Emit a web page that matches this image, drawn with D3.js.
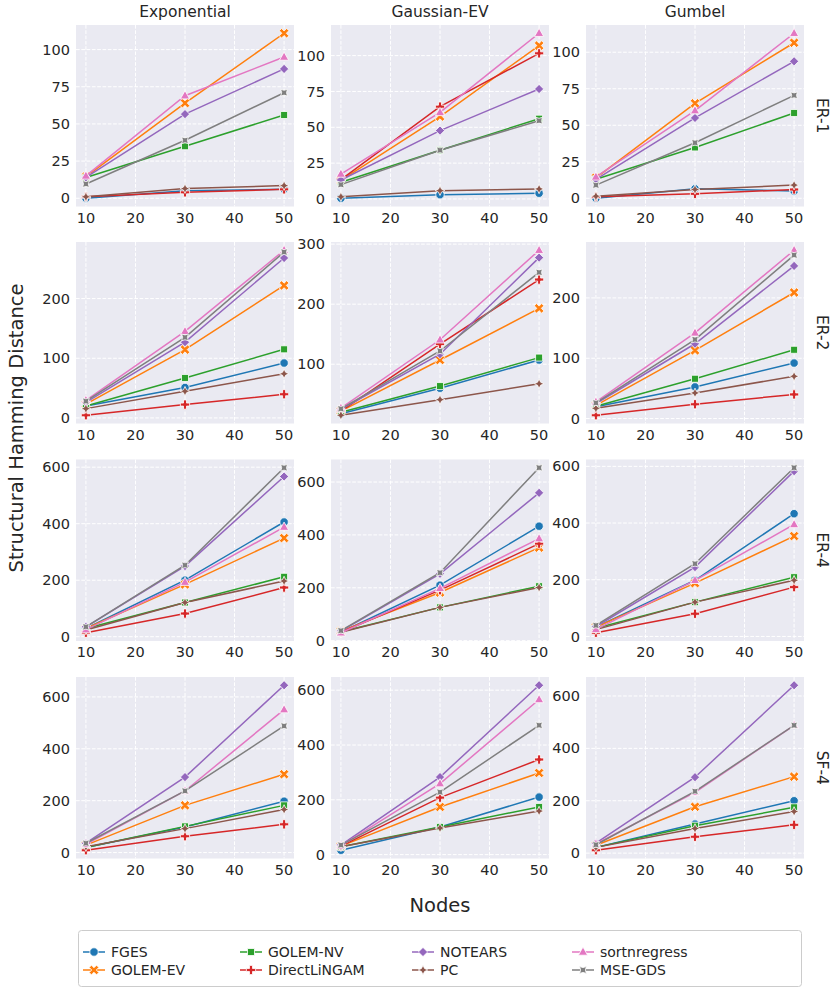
<!DOCTYPE html>
<html>
<head>
<meta charset="utf-8">
<script src="https://cdn.jsdelivr.net/npm/d3@7"></script>
<style>
  body { margin: 0; background: #fff; }
  svg text { font-family: "DejaVu Sans", sans-serif; fill: #262626; }
</style>
</head>
<body>
<svg id="chart" width="830" height="994"></svg>
<script>
// x values and facet labels
var nodes = [10, 30, 50];
var xTicks = [10, 20, 30, 40, 50];
var noiseTypes = ['Exponential', 'Gaussian-EV', 'Gumbel'];
var graphTypes = ['ER-1', 'ER-2', 'ER-4', 'SF-4'];
var rowTickStep = [25, 100, 200, 200];
var methods = ['FGES', 'GOLEM-EV', 'GOLEM-NV', 'DirectLiNGAM', 'NOTEARS', 'PC', 'sortnregress', 'MSE-GDS'];
var colors = ['#1f77b4', '#ff7f0e', '#2ca02c', '#d62728', '#9467bd', '#8c564b', '#e377c2', '#7f7f7f'];
var markers = ['circle', 'x', 'square', 'plus', 'diamond', 'star4', 'triangle', 'star4r'];

// SHD per method: rows ER-1, ER-2, ER-4, SF-4; in each row Exponential, Gaussian-EV, Gumbel
var shd_FGES = [
	[0, 5, 6], [0.5, 3, 4], [0, 6.5, 5],
	[20, 51, 92], [17.5, 60, 107], [19.5, 52.5, 92],
	[29, 200, 406], [32, 210, 433], [33, 198, 433],
	[20, 99, 198], [16, 101, 210], [22, 111, 200]
];
var shd_GOLEM_EV = [
	[14.5, 64, 111], [13, 57.5, 107], [14, 65, 106.5],
	[23, 114.5, 222], [22, 107, 193], [22, 113, 209],
	[29, 185, 349], [36, 182, 352], [33, 188, 354],
	[28.7, 182, 302], [31, 174, 298], [30, 177, 292]
];
var shd_GOLEM_NV = [
	[14, 35, 56], [11.6, 34, 56], [13, 34.8, 58.4],
	[20, 67, 115], [20, 63.6, 111], [20.5, 66, 114],
	[29, 121, 212], [34, 126, 206], [29, 121, 209],
	[20, 101, 182], [29, 101, 174], [22, 104.6, 175]
];
var shd_DirectLiNGAM = [
	[1, 4, 6], [13.5, 64.4, 101.6], [1, 3, 6],
	[4.5, 22.4, 39.7], [22, 133.5, 241], [5.5, 23.7, 40],
	[14, 82, 174], [32, 191, 367], [13, 80, 174],
	[9, 63, 109], [31, 208, 347], [11, 62.5, 108]
];
var shd_NOTEARS = [
	[14, 56.6, 87], [13.2, 47.7, 76.7], [13, 55, 93.8],
	[26, 127, 268], [25, 116.7, 277.5], [25, 124, 253],
	[35, 250, 567], [36, 253, 559], [35, 244.6, 583],
	[36, 291, 645], [35, 283, 618], [38, 290, 641]
];
var shd_PC = [
	[1, 6.5, 8.5], [1.5, 5.8, 7], [1.4, 6, 9],
	[15.6, 44.7, 74], [15, 41, 67.5], [17, 42.5, 70],
	[24, 121, 197], [32, 126, 201], [24, 121, 198],
	[22.6, 92.4, 166], [29, 97, 159], [22, 94, 159]
];
var shd_sortnregress = [
	[15, 69, 95], [17.4, 60.4, 115.6], [14.6, 60, 113],
	[29.6, 145, 281], [27, 140.7, 289.8], [27.6, 142, 279],
	[25, 193, 388], [30, 198, 386], [25, 198, 395],
	[32, 237.5, 551], [32, 259, 566], [35, 232, 488]
];
var shd_MSE_GDS = [
	[9.6, 39, 71], [10, 34, 54.6], [9, 38, 70.5],
	[28, 135, 278], [25.7, 122, 253], [26, 131, 271],
	[35, 253, 598], [38, 257, 654], [39, 256.5, 595],
	[36, 237.5, 488], [35, 228, 472], [32, 236, 488]
];
var allShd = [shd_FGES, shd_GOLEM_EV, shd_GOLEM_NV, shd_DirectLiNGAM, shd_NOTEARS, shd_PC, shd_sortnregress, shd_MSE_GDS];

// panel geometry
var colLeft = [76, 331, 586];
var rowTop = [25, 242, 459.5, 677];
var panelW = 218, panelH = 181.5;

var svg = d3.select('#chart');

// marker shapes, drawn around (0,0)
function poly(pts) {
	return 'M' + pts.map(p => p[0].toFixed(2) + ',' + p[1].toFixed(2)).join('L') + 'Z';
}
function rot(pts, deg) {
	const a = deg * Math.PI / 180;
	return pts.map(p => [p[0] * Math.cos(a) - p[1] * Math.sin(a), p[0] * Math.sin(a) + p[1] * Math.cos(a)]);
}
function plusPts(r, a) {
	return [[-a, -r], [a, -r], [a, -a], [r, -a], [r, a], [a, a], [a, r], [-a, r], [-a, a], [-r, a], [-r, -a], [-a, -a]];
}
function starPts(r, inner) {
	const pts = [];
	for (let i = 0; i < 8; i++) {
		const ang = -Math.PI / 2 + i * Math.PI / 4;
		const rr = i % 2 === 0 ? r : r * inner;
		pts.push([rr * Math.cos(ang), rr * Math.sin(ang)]);
	}
	return pts;
}
function markerPath(kind) {
	switch (kind) {
		case 'circle': return d3.symbol(d3.symbolCircle, 56)();
		case 'x': return poly(rot(plusPts(5.2, 1.6), 45));
		case 'square': return poly([[-3.5, -3.5], [3.5, -3.5], [3.5, 3.5], [-3.5, 3.5]]);
		case 'plus': return poly(plusPts(4.6, 1.5));
		case 'diamond': return poly([[0, -4.6], [4.6, 0], [0, 4.6], [-4.6, 0]]);
		case 'star4': return poly(starPts(4.8, 0.45));
		case 'triangle': return poly([[0, -5], [4.6, 3.2], [-4.6, 3.2]]);
		case 'star4r': return poly(rot(starPts(4.8, 0.5), 45));
	}
}

var line = d3.line();

graphTypes.forEach(function(gType, row) {
	noiseTypes.forEach(function(noise, col) {
		const k = row * 3 + col;
		const x0 = colLeft[col], y0 = rowTop[row];
		const g = svg.append('g').attr('transform', 'translate(' + x0 + ',' + y0 + ')');

		// seaborn style: 5% margins on both axes
		const xs = d3.scaleLinear().domain([8, 52]).range([0, panelW]);
		const vals = allShd.flatMap(s => s[k]);
		const lo = d3.min(vals), hi = d3.max(vals), pad = (hi - lo) * 0.05;
		const ys = d3.scaleLinear().domain([lo - pad, hi + pad]).range([panelH, 0]);
		const step = rowTickStep[row];
		const yTicks = d3.range(Math.ceil((lo - pad) / step) * step, hi + pad, step);

		g.append('rect').attr('width', panelW).attr('height', panelH).attr('fill', '#eaeaf2');

		// grid
		g.selectAll('.gx').data(xTicks).enter().append('line')
			.attr('x1', d => xs(d)).attr('x2', d => xs(d))
			.attr('y1', 0).attr('y2', panelH)
			.attr('stroke', '#fff').attr('stroke-width', 1).attr('stroke-dasharray', '3.7,1.6');
		g.selectAll('.gy').data(yTicks).enter().append('line')
			.attr('x1', 0).attr('x2', panelW)
			.attr('y1', d => ys(d)).attr('y2', d => ys(d))
			.attr('stroke', '#fff').attr('stroke-width', 1).attr('stroke-dasharray', '3.7,1.6');

		// tick labels
		g.selectAll('.tx').data(xTicks).enter().append('text')
			.attr('x', d => xs(d)).attr('y', panelH + 16)
			.attr('text-anchor', 'middle').style('font-size', '14.5px')
			.text(d => d);
		g.selectAll('.ty').data(yTicks).enter().append('text')
			.attr('x', -6).attr('y', d => ys(d)).attr('dy', '0.35em')
			.attr('text-anchor', 'end').style('font-size', '14.5px')
			.text(d => d);

		// series
		allShd.forEach(function(series, m) {
			const pts = nodes.map((n, i) => [xs(n), ys(series[k][i])]);
			g.append('path').attr('d', line(pts))
				.attr('fill', 'none').attr('stroke', colors[m]).attr('stroke-width', 1.5);
			g.selectAll('.mk' + m).data(pts).enter().append('path')
				.attr('d', markerPath(markers[m]))
				.attr('transform', d => 'translate(' + d[0] + ',' + d[1] + ')')
				.attr('fill', colors[m]).attr('stroke', '#fff').attr('stroke-width', 0.8);
		});

		if (row === 0) {
			g.append('text').attr('x', panelW / 2).attr('y', -8)
				.attr('text-anchor', 'middle').style('font-size', '15.5px').text(noise);
		}
		if (col === 2) {
			g.append('text')
				.attr('transform', 'translate(' + (panelW + 18) + ',' + (panelH / 2) + ')rotate(90)')
				.attr('text-anchor', 'middle').attr('dy', '0.35em')
				.style('font-size', '15.5px').text(gType);
		}
	});
});

// figure labels
svg.append('text')
	.attr('transform', 'translate(16,428)rotate(-90)')
	.attr('text-anchor', 'middle').attr('dy', '0.35em')
	.style('font-size', '19.5px').text('Structural Hamming Distance');
svg.append('text').attr('x', 440).attr('y', 905).attr('dy', '0.35em')
	.attr('text-anchor', 'middle').style('font-size', '19.5px').text('Nodes');

// legend, 5 columns filled column-wise
var legendColX = [83, 240, 412, 572, 690];
var legendRowY = [952, 970];
var legend = svg.append('g');
legend.append('rect').attr('x', 78.5).attr('y', 930.5).attr('width', 723).attr('height', 56)
	.attr('rx', 3).attr('fill', '#fff').attr('stroke', '#cccccc');
methods.forEach(function(name, m) {
	const cx = legendColX[Math.floor(m / 2)], cy = legendRowY[m % 2];
	const it = legend.append('g').attr('transform', 'translate(' + cx + ',' + cy + ')');
	it.append('line').attr('x1', 0).attr('x2', 22).attr('stroke', colors[m]).attr('stroke-width', 1.5);
	it.append('path').attr('d', markerPath(markers[m])).attr('transform', 'translate(11,0)')
		.attr('fill', colors[m]).attr('stroke', '#fff').attr('stroke-width', 0.8);
	it.append('text').attr('x', 28).attr('dy', '0.35em').style('font-size', '14px').text(name);
});
</script>
</body>
</html>
